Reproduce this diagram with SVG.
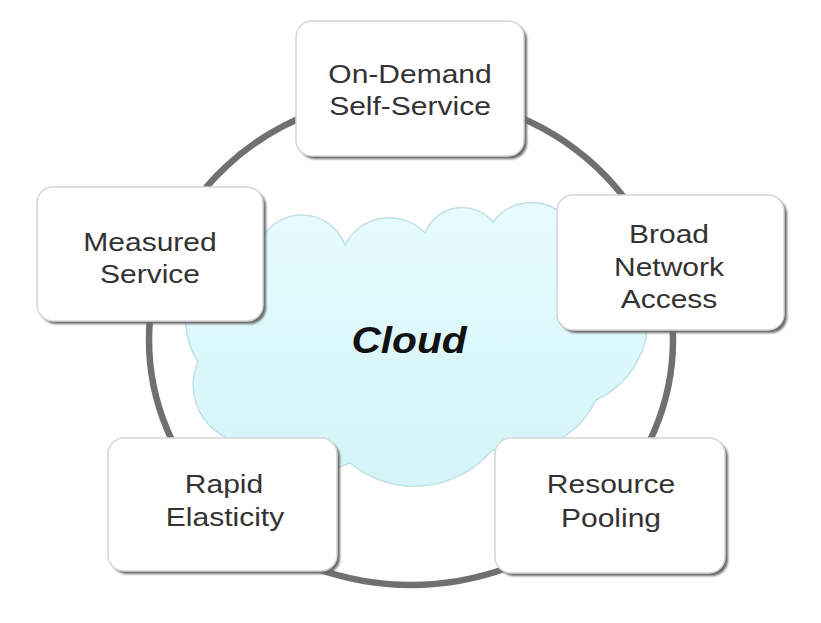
<svg xmlns="http://www.w3.org/2000/svg" width="821" height="623" viewBox="0 0 821 623">
  <defs>
    <linearGradient id="cloudGrad" x1="0" y1="0" x2="0" y2="1">
      <stop offset="0" stop-color="#e6fcfe"/>
      <stop offset="1" stop-color="#d4f4f8"/>
    </linearGradient>
    <filter id="shadow" x="-10%" y="-10%" width="125%" height="125%">
      <feGaussianBlur stdDeviation="1.2"/>
    </filter>
  </defs>
  <style>
    .ring { fill: none; stroke: #707070; stroke-width: 6.5; }
    .cloud { fill: url(#cloudGrad); stroke: #bfe0e6; stroke-width: 1.5; }
    .shadow { fill: #6a6a6a; filter: url(#shadow); }
    .box { fill: #ffffff; stroke: #d6d6d6; stroke-width: 1.5; }
    .label { font-family: "Liberation Sans", Arial, sans-serif; font-size: 25px; fill: #333333; text-anchor: middle; }
    .title { font-family: "Liberation Sans", Arial, sans-serif; font-size: 37px; font-weight: bold; font-style: italic; fill: #111111; text-anchor: middle; }
  </style>
  <rect width="821" height="623" fill="#ffffff"/>

  <g id="connectors">
    <ellipse class="ring" cx="411" cy="340" rx="262" ry="245"/>
  </g>

  <g id="cloud">
    <path class="cloud" d="M198,362 A81,81 0 0 1 262,238 A46,46 0 0 1 345,245 A49.5,49.5 0 0 1 425,233 A40,40 0 0 1 493,222 A48,48 0 0 1 575,230 A90,90 0 0 1 596,400 A93,93 0 0 1 492,450 A101,101 0 0 1 350,463 A65,65 0 0 1 270,440 A58,58 0 0 1 198,362 Z"/>
    <text class="title" transform="translate(409,353) scale(1.1,1)">Cloud</text>
  </g>

  <g id="node-on-demand">
    <rect class="shadow" x="299" y="24" width="228" height="135" rx="16"/>
    <rect class="box" x="296" y="21" width="228" height="135" rx="16"/>
    <text class="label" transform="translate(410,83) scale(1.2,1)">On-Demand</text>
    <text class="label" transform="translate(410,115) scale(1.2,1)">Self-Service</text>
  </g>

  <g id="node-measured">
    <rect class="shadow" x="40" y="190" width="226" height="134" rx="16"/>
    <rect class="box" x="37" y="187" width="226" height="134" rx="16"/>
    <text class="label" transform="translate(150,251) scale(1.2,1)">Measured</text>
    <text class="label" transform="translate(150,283) scale(1.2,1)">Service</text>
  </g>

  <g id="node-broad">
    <rect class="shadow" x="560" y="198" width="227" height="135" rx="16"/>
    <rect class="box" x="557" y="195" width="227" height="135" rx="16"/>
    <text class="label" transform="translate(669,243) scale(1.2,1)">Broad</text>
    <text class="label" transform="translate(669,276) scale(1.2,1)">Network</text>
    <text class="label" transform="translate(669,308) scale(1.2,1)">Access</text>
  </g>

  <g id="node-rapid">
    <rect class="shadow" x="111" y="441" width="229" height="133" rx="16"/>
    <rect class="box" x="108" y="438" width="229" height="133" rx="16"/>
    <text class="label" transform="translate(224,493) scale(1.2,1)">Rapid</text>
    <text class="label" transform="translate(225,526) scale(1.2,1)">Elasticity</text>
  </g>

  <g id="node-resource">
    <rect class="shadow" x="498" y="441" width="230" height="135" rx="16"/>
    <rect class="box" x="495" y="438" width="230" height="135" rx="16"/>
    <text class="label" transform="translate(611,493) scale(1.2,1)">Resource</text>
    <text class="label" transform="translate(611,527) scale(1.2,1)">Pooling</text>
  </g>
</svg>
